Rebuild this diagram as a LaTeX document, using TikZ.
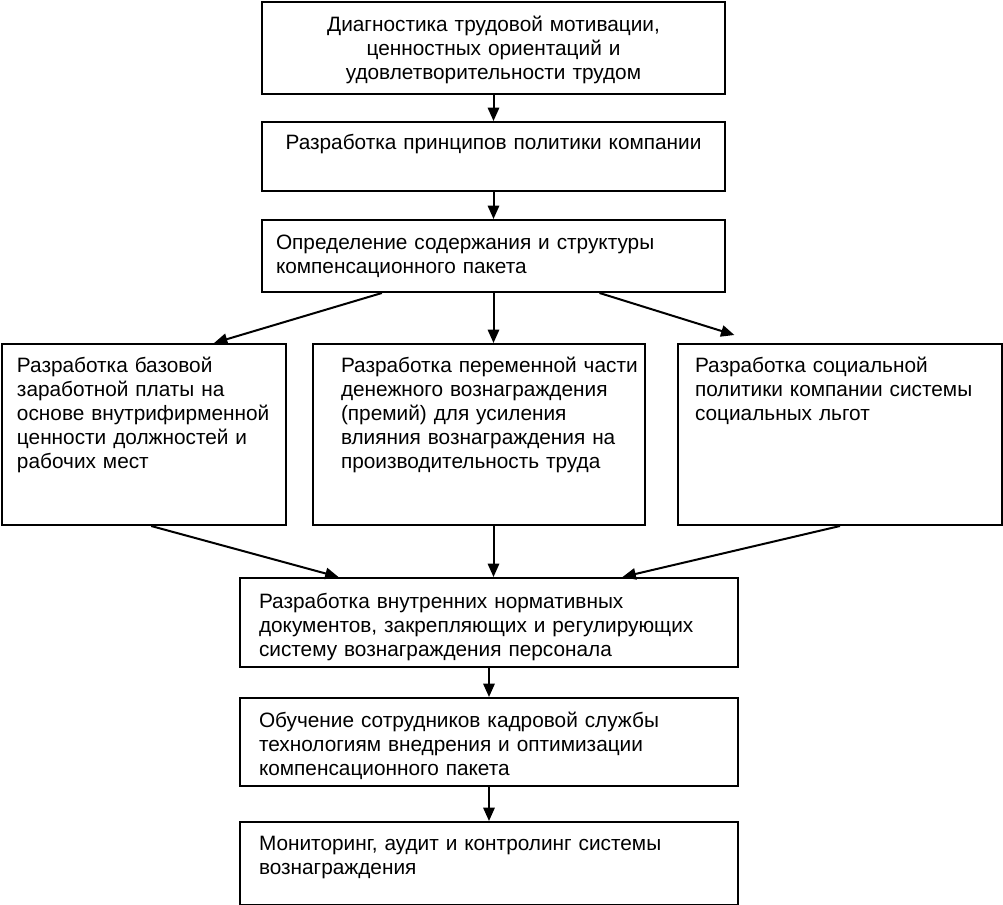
\documentclass[tikz,border=0pt]{standalone}
\usepackage{fontspec}
\setmainfont{Liberation Sans}
\usepackage{tikz}
\usetikzlibrary{arrows.meta,calc}

\begin{document}
\begin{tikzpicture}[
      x=0.75pt, y=-0.75pt,
      stepbox/.style={draw, line width=1.5pt, anchor=north west, align=left,
                      inner xsep=0pt, inner ysep=9pt, text height=12.6pt,
                      font=\fontsize{15.6pt}{18pt}\selectfont},
      lskip/.style={execute at begin node={\leftskip=#1\relax},
                    execute at end node={\endgraf}},
      arr/.style={-{Triangle[length=10pt,width=8.5pt]}, line width=1.5pt}
    ]
    \useasboundingbox (0,0) rectangle (1003,905);

    \node[stepbox, align=center, text width=347.25pt, inner ysep=9.75pt,
          text depth=36.9pt] (b1) at (261,1) {%
      Диагностика трудовой мотивации,\\
      ценностных ориентаций и\\
      удовлетворительности трудом};
    \node[stepbox, align=center, text width=347.25pt, inner ysep=8.25pt,
          text depth=22.65pt] (b2) at (261,121) {%
      Разработка принципов политики компании};
    \node[stepbox, lskip=10.5pt, text width=347.25pt, inner ysep=9.75pt,
          text depth=21.9pt] (b3) at (261,219) {%
      Определение содержания и структуры\\
      компенсационного пакета};

    \node[stepbox, lskip=11.25pt, text width=213pt,
          text depth=105.15pt] (b4) at (1,343) {%
      Разработка базовой\\
      заработной платы на\\
      основе внутрифирменной\\
      ценности должностей и\\
      рабочих мест};
    \node[stepbox, lskip=21pt, text width=249pt,
          text depth=105.15pt] (b5) at (312,343) {%
      Разработка переменной части\\
      денежного вознаграждения\\
      (премий) для усиления\\
      влияния вознаграждения на\\
      производительность труда};
    \node[stepbox, lskip=12.75pt, text width=243pt,
          text depth=105.15pt] (b6) at (677,343) {%
      Разработка социальной\\
      политики компании системы\\
      социальных льгот};

    \node[stepbox, lskip=14.25pt, text width=373.5pt, inner ysep=10.5pt,
          text depth=33.15pt] (b7) at (239,577) {%
      Разработка внутренних нормативных\\
      документов, закрепляющих и регулирующих\\
      систему вознаграждения персонала};
    \node[stepbox, lskip=14.25pt, text width=373.5pt, inner ysep=9.75pt,
          text depth=33.9pt] (b8) at (239,697) {%
      Обучение сотрудников кадровой службы\\
      технологиям внедрения и оптимизации\\
      компенсационного пакета};
    \node[stepbox, lskip=14.25pt, text width=373.5pt,
          text depth=31.65pt] (b9) at (239,821) {%
      Мониторинг, аудит и контролинг системы\\
      вознаграждения};

    \draw[arr] (b1.south) -- (b2.north);
    \draw[arr] (b2.south) -- (b3.north);
    \draw[arr] ($(b3.south west)!0.26!(b3.south east)$)
      -- ($(b4.north west)!0.745!(b4.north east)$);
    \draw[arr] (b3.south) -- (b3.south |- b5.north);
    \draw[arr] ($(b3.south west)!0.728!(b3.south east)$)
      -- ($(b6.north west)!0.176!(b6.north east)+(0,-8)$);
    \draw[arr] ($(b4.south west)!0.525!(b4.south east)$)
      -- ($(b7.north west)!0.199!(b7.north east)$);
    \draw[arr] (b3.south |- b5.south) -- (b3.south |- b7.north);
    \draw[arr] (b6.south) -- ($(b7.north west)!0.767!(b7.north east)$);
    \draw[arr] (b7.south) -- (b8.north);
    \draw[arr] (b8.south) -- (b9.north);
  \end{tikzpicture}
\end{document}
